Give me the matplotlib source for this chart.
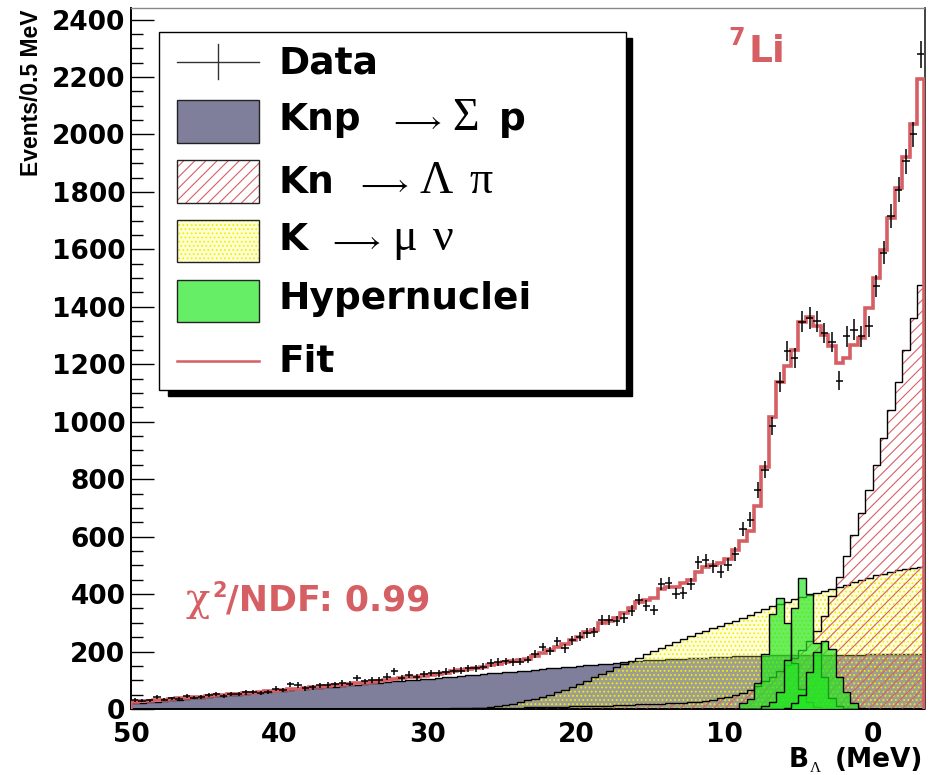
import numpy as np
import matplotlib
matplotlib.use("Agg")
import matplotlib.pyplot as plt
from matplotlib.patches import Rectangle
from matplotlib.lines import Line2D
from matplotlib.ticker import MultipleLocator, FixedLocator

# ---------------- data (0.5 MeV bins, from B = 50 MeV downwards) ----------------
B_HIGH = 50.0
BIN_W = 0.5

data = [31, 28, 30, 41, 33, 37, 35, 46, 40, 42,
        49, 52, 46, 52, 51, 58, 60, 56, 60, 70,
        66, 86, 84, 72, 76, 83, 84, 86, 91, 88,
        107, 96, 101, 100, 113, 131, 108, 120, 112, 122,
        126, 124, 130, 133, 133, 142, 141, 147, 160, 164,
        166, 164, 165, 172, 191, 216, 203, 235, 211, 240,
        252, 264, 268, 310, 311, 306, 316, 342, 381, 360,
        345, 434, 438, 402, 404, 435, 510, 518, 497, 478,
        502, 540, 627, 659, 763, 833, 984, 1138, 1245, 1222,
        1348, 1361, 1350, 1309, 1277, 1143, 1297, 1320, 1297, 1332,
        1471, 1588, 1715, 1808, 1907, 2000, 2279]

fit = [25, 27, 29, 31, 33, 35, 37, 39, 41, 43,
       45, 47, 49, 51, 53, 55, 57, 59, 62, 64,
       66, 68, 70, 73, 75, 77, 79, 82, 84, 87,
       90, 92, 95, 98, 101, 104, 107, 110, 113, 116,
       119, 123, 127, 131, 135, 139, 143, 147, 152, 157,
       162, 166, 170, 175, 186, 196, 206, 217, 225, 240,
       252, 267, 275, 298, 308, 316, 333, 351, 374, 380,
       388, 417, 424, 426, 438, 449, 478, 496, 502, 508,
       522, 552, 586, 618, 705, 842, 1016, 1140, 1193, 1248,
       1346, 1363, 1334, 1303, 1265, 1204, 1222, 1268, 1292, 1396,
       1500, 1599, 1710, 1814, 1923, 2035, 2192]

knp_sigma_p = [20, 22, 24, 26, 29, 31, 33, 35, 37, 39,
               42, 44, 46, 48, 50, 52, 55, 57, 59, 61,
               63, 65, 68, 70, 72, 74, 76, 78, 80, 83,
               85, 87, 89, 91, 93, 96, 98, 100, 102, 104,
               106, 109, 111, 113, 115, 117, 119, 122, 124, 126,
               128, 130, 132, 134, 137, 139, 141, 143, 145, 147,
               150, 152, 154, 156, 158, 160, 163, 165, 168, 169,
               170, 172, 173, 174, 175, 176, 178, 179, 180, 181,
               182, 183, 184, 185, 186, 186, 187, 187, 187, 188,
               188, 188, 188, 189, 189, 189, 189, 189, 189, 190,
               190, 190, 190, 190, 190, 190, 190]

k_mu_nu = [0] * 46 + [2, 4, 7, 11,
           15, 19, 24, 30, 36, 43, 50, 58, 66, 76,
           87, 98, 110, 122, 134, 146, 157, 167, 178, 190,
           201, 212, 222, 232, 242, 253, 263, 272, 281, 289,
           298, 307, 316, 326, 337, 347, 357, 366, 374, 382,
           389, 396, 403, 410, 417, 425, 433, 441, 449, 457,
           465, 471, 477, 483, 488, 492, 496]

kn_lambda_pi = [0] * 40 + [1, 1, 1, 2, 2, 2, 3, 3, 3, 4,
                4, 5, 5, 6, 6, 7, 7, 8, 8, 9,
                9, 10, 11, 11, 12, 13, 14, 15, 16, 17,
                18, 19, 20, 21, 22, 24, 26, 29, 33, 37,
                42, 48, 55, 66, 80, 96, 113, 132, 153, 177,
                204, 236, 272, 325, 395, 460, 531, 606, 682, 763,
                850, 943, 1042, 1140, 1251, 1361, 1477]

# hypernuclear peaks: B of the upper edge of the first bin, then bin contents
hyp1_start, hyp1 = 9.0, [20, 35, 90, 190, 330, 386, 300, 160, 70, 25, 8]
hyp2_start, hyp2 = 7.5, [10, 25, 60, 170, 350, 455, 400, 230, 110, 40, 12, 4]
hyp3_start, hyp3 = 6.0, [5, 20, 50, 130, 200, 236, 210, 110, 60, 20, 5]

x_ticks = [50, 40, 30, 20, 10, 0]
legend_labels = ["Data", "Knp", "Kn", "K", "Hypernuclei", "Fit"]

# ---------------- style ----------------
RED = "#d65f64"
GRAY = "#7f7f9c"
GREEN = "#22e622"
W, H = 941, 775

plt.rcParams["font.family"] = ["DejaVu Sans"]
plt.rcParams["hatch.linewidth"] = 0.8

n = len(data)
edges = B_HIGH - BIN_W * np.arange(n + 1)
centers = edges[:-1] - BIN_W / 2


def full(start, vals):
    arr = np.zeros(n)
    i0 = int(round((B_HIGH - start) / BIN_W))
    arr[i0:i0 + len(vals)] = vals
    return arr


def stair(ax, vals, **kw):
    v = np.asarray(vals, dtype=float)
    return ax.stairs(v[::-1], edges[::-1], baseline=0, **kw)


fig = plt.figure(figsize=(W / 100, H / 100), dpi=100)
fig.patch.set_facecolor("white")
ax = fig.add_axes([131 / W, 1 - 709 / H, (924.5 - 131) / W, (709 - 7.5) / H])

# Knp -> Sigma p (solid gray)
stair(ax, knp_sigma_p, fill=True, facecolor=GRAY, edgecolor="none", linewidth=0, zorder=1)
stair(ax, knp_sigma_p, color="black", linewidth=1.0, zorder=1.1)
# K -> mu nu (yellow dotted)
stair(ax, k_mu_nu, fill=True, facecolor=(1, 1, 0.5, 0.24), edgecolor="none", linewidth=0, zorder=2)
stair(ax, k_mu_nu, fill=True, facecolor="none", edgecolor="#f0f000", hatch="....", linewidth=0, zorder=2.05)
stair(ax, k_mu_nu, color="black", linewidth=1.0, zorder=2.1)
# Kn -> Lambda pi (red hatched)
stair(ax, kn_lambda_pi, fill=True, facecolor="none", edgecolor=RED, hatch="///", linewidth=0, zorder=3)
stair(ax, kn_lambda_pi, color="black", linewidth=1.0, zorder=3.1)
# hypernuclei (green)
for k, (s, v) in enumerate([(hyp1_start, hyp1), (hyp2_start, hyp2), (hyp3_start, hyp3)]):
    arr = full(s, v)
    stair(ax, arr, fill=True, facecolor=GREEN, alpha=0.68, edgecolor="none", linewidth=0, zorder=4 + 0.1 * k)
    stair(ax, arr, color="black", linewidth=1.0, zorder=4.05 + 0.1 * k)
# fit
stair(ax, fit, color=RED, linewidth=2.6, zorder=5)
# data
ax.errorbar(centers, data, yerr=np.sqrt(data), xerr=BIN_W / 2, fmt="none",
            ecolor="black", elinewidth=1.1, capsize=0, zorder=6)

ax.set_xlim(50, -3.5)
ax.set_ylim(0, 2442)
ax.xaxis.set_major_locator(FixedLocator(x_ticks))
ax.yaxis.set_major_locator(MultipleLocator(200))
ax.yaxis.set_minor_locator(MultipleLocator(50))
ax.tick_params(axis="y", which="major", direction="in", length=16.5, width=1.0,
               labelsize=19, pad=4, right=False)
ax.tick_params(axis="y", which="minor", direction="in", length=8.5, width=1.0, right=False)
ax.tick_params(axis="x", which="both", length=0, labelsize=19, pad=9)
for lab in ax.get_xticklabels() + ax.get_yticklabels():
    lab.set_fontweight("bold")
for s in ["left", "bottom"]:
    ax.spines[s].set_linewidth(1.4)
    ax.spines[s].set_color("black")
ax.spines["right"].set_linewidth(1.2)
ax.spines["right"].set_color("#222222")
ax.spines["top"].set_linewidth(1.0)
ax.spines["top"].set_color("#888888")


def fx(x):
    return x / W


def fy(y):
    return 1 - y / H


def frect(x0, y0, x1, y1, **kw):
    r = Rectangle((fx(x0), fy(y1)), (x1 - x0) / W, (y1 - y0) / H,
                  transform=fig.transFigure, **kw)
    fig.add_artist(r)
    return r


def ftext(x, y, s, **kw):
    kw.setdefault("ha", "left")
    kw.setdefault("va", "baseline")
    return fig.text(fx(x), fy(y), s, **kw)


SERIF = ["Liberation Serif", "DejaVu Serif"]

# axis titles
fig.text(fx(32), fy(9), "Events/0.5 MeV", rotation=90, ha="center", va="top",
         fontsize=16.5, fontweight="bold", family=["Liberation Sans", "DejaVu Sans"])
ftext(923, 767, "(MeV)", ha="right", fontsize=19, fontweight="bold")
ftext(789, 767, "B", fontsize=19, fontweight="bold")
ftext(810, 772, "Λ", fontsize=11, family=SERIF)

# annotations
ftext(728, 45, "7", fontsize=17, fontweight="bold", color=RED)
ftext(749, 62, "Li", fontsize=27, fontweight="bold", color=RED)
ftext(185, 611, "χ", fontsize=29, color=RED, family=["DejaVu Serif"])
ftext(212, 597, "2", fontsize=15, fontweight="bold", color=RED)
ftext(226, 611, "/NDF: 0.99", fontsize=25, fontweight="bold", color=RED)

# legend box with shadow
frect(168, 38, 632, 396, facecolor="black", edgecolor="black", zorder=5)
frect(159, 32, 626, 390, facecolor="white", edgecolor="black", linewidth=1.0, zorder=5.1)

bx0, bx1 = 176.7, 259
rows = [61.7, 121.7, 181.7, 241, 301, 360.7]
baselines = [73, 130, 193, 250, 309, 372]
# data symbol
fig.add_artist(Line2D([fx(bx0), fx(bx1)], [fy(rows[0])] * 2, transform=fig.transFigure,
                      color="#333333", linewidth=1.0, zorder=6))
fig.add_artist(Line2D([fx(218)] * 2, [fy(44), fy(79)], transform=fig.transFigure,
                      color="#333333", linewidth=1.0, zorder=6))
# boxes
frect(bx0, 100, bx1, 142.7, facecolor=GRAY, edgecolor="#222222", linewidth=1.0, zorder=6)
frect(bx0, 160, bx1, 202.7, facecolor="none", edgecolor=RED, hatch="///", linewidth=0, zorder=6)
frect(bx0, 160, bx1, 202.7, facecolor="none", edgecolor="#222222", linewidth=1.0, zorder=6.1)
frect(bx0, 220, bx1, 262.3, facecolor="#ffffd6", edgecolor="none", linewidth=0, zorder=6)
frect(bx0, 220, bx1, 262.3, facecolor="none", edgecolor="#f0f000", hatch="....", linewidth=0, zorder=6.05)
frect(bx0, 220, bx1, 262.3, facecolor="none", edgecolor="#222222", linewidth=1.0, zorder=6.1)
frect(bx0, 280, bx1, 322.3, facecolor="#66ee66", edgecolor="#222222", linewidth=1.0, zorder=6)
fig.add_artist(Line2D([fx(bx0), fx(bx1)], [fy(rows[5])] * 2, transform=fig.transFigure,
                      color=RED, linewidth=1.8, zorder=6))

LF = 27
GF = 33
AF = 22
ftext(278, baselines[0], legend_labels[0], fontsize=LF, fontweight="bold", zorder=7)
ftext(278, baselines[1], legend_labels[1], fontsize=LF, fontweight="bold", zorder=7)
ftext(389, baselines[1], r"$\longrightarrow$", fontsize=AF, math_fontfamily="stix", zorder=7)
ftext(452, baselines[1], "Σ", fontsize=GF, family=SERIF, zorder=7)
ftext(499, baselines[1], "p", fontsize=LF, fontweight="bold", zorder=7)
ftext(278, baselines[2], legend_labels[2], fontsize=LF, fontweight="bold", zorder=7)
ftext(356, baselines[2], r"$\longrightarrow$", fontsize=AF, math_fontfamily="stix", zorder=7)
ftext(419, baselines[2], "Λ", fontsize=GF, family=SERIF, zorder=7)
ftext(469, baselines[2], "π", fontsize=GF, family=SERIF, zorder=7)
ftext(278, baselines[3], legend_labels[3], fontsize=LF, fontweight="bold", zorder=7)
ftext(328, baselines[3], r"$\longrightarrow$", fontsize=AF, math_fontfamily="stix", zorder=7)
ftext(392, baselines[3], "μ", fontsize=GF, family=SERIF, zorder=7)
ftext(433, baselines[3], "ν", fontsize=GF, family=SERIF, zorder=7)
ftext(278, baselines[4], legend_labels[4], fontsize=LF, fontweight="bold", zorder=7)
ftext(278, baselines[5], legend_labels[5], fontsize=LF, fontweight="bold", zorder=7)

fig.savefig("out.png", dpi=100)
